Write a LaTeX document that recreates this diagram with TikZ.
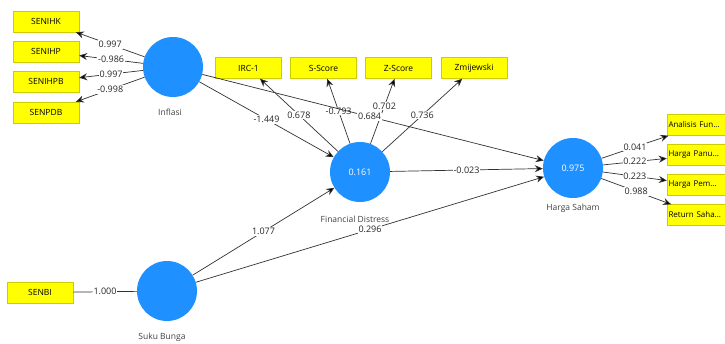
\documentclass[tikz,border=0pt]{standalone}
\usepackage{fontspec}
\setmainfont{Open Sans}
\usetikzlibrary{arrows.meta}
\definecolor{lvblue}{RGB}{30,144,255}
\definecolor{indyellow}{RGB}{255,255,0}
\definecolor{edgegray}{RGB}{50,50,50}
\begin{document}
\begin{tikzpicture}[x=1pt,y=-1pt,
  lv/.style={circle,fill=lvblue,minimum size=60pt,inner sep=0pt,text=white,font=\fontsize{9}{10}\selectfont},
  ind/.style={rectangle,fill=indyellow,draw=indyellow!80!black,line width=0.4pt,minimum width=66pt,minimum height=21pt,inner sep=0pt,font=\fontsize{8.5}{10}\selectfont},
  indr/.style={ind,text width=63pt,align=left,inner xsep=1.5pt,font=\fontsize{8}{10}\selectfont},
  lvname/.style={font=\fontsize{8.5}{10}\selectfont,text=black!75},
  conn/.style={draw=edgegray,line width=0.7pt,-{Stealth[length=8pt,width=7pt,fill=black]}},
  plain/.style={draw=edgegray,line width=0.7pt},
  coef/.style={fill=white,inner sep=0.8pt,pos=0.5,font=\fontsize{9}{10}\selectfont,text=black!85}
]
\clip (0,0) rectangle (725,343);
\fill[white] (0,0) rectangle (725,343);

% latent variables
\node[lv] (inf) at (173,67) {};
\node[lv] (fd) at (360,172) {0.161};
\node[lv] (hs) at (573,168) {0.975};
\node[lv] (sb) at (167,291) {};

\node[lvname] (infn) at (170,112) {Inflasi};
\node[lvname] (fdn) at (355,219) {Financial Distress};
\node[lvname] (hsn) at (573,208) {Harga Saham};
\node[lvname] (sbn) at (162,337) {Suku Bunga};

% indicators
\node[ind] (senihk) at (46,21.5) {SENIHK};
\node[ind] (senihp) at (46,51.5) {SENIHP};
\node[ind] (senihpb) at (46,81.5) {SENIHPB};
\node[ind] (senpdb) at (46,112.5) {SENPDB};
\node[ind] (irc) at (248.5,68) {IRC-1};
\node[ind] (ss) at (323.5,68) {S-Score};
\node[ind] (zs) at (398.5,68) {Z-Score};
\node[ind] (zm) at (474,68) {Zmijewski};
\node[indr] (af) at (700,125) {Analisis Fun...};
\node[indr] (hp) at (700,155) {Harga Panu...};
\node[indr] (hpm) at (700,185) {Harga Pem...};
\node[indr] (rs) at (700,215) {Return Saha...};
\node[ind] (senbi) at (40,292.5) {SENBI};

% outer loadings
\draw[conn] (inf) -- node[coef]{0.997} (senihk);
\draw[conn] (inf) -- node[coef]{-0.986} (senihp);
\draw[conn] (inf) -- node[coef]{0.997} (senihpb);
\draw[conn] (inf) -- node[coef]{-0.998} (senpdb);
\draw[conn] (fd) -- node[coef]{0.678} (irc);
\draw[conn] (fd) -- node[coef]{-0.793} (ss);
\draw[conn] (fd) -- node[coef,pos=0.58]{0.702} (zs);
\draw[conn] (fd) -- node[coef]{0.736} (zm);
\draw[conn] (hs) -- node[coef]{0.041} (af);
\draw[conn] (hs) -- node[coef]{0.222} (hp);
\draw[conn] (hs) -- node[coef]{0.223} (hpm);
\draw[conn] (hs) -- node[coef]{0.988} (rs);
\draw[plain] (senbi) -- node[coef]{1.000} (sb);

% path coefficients
\draw[conn] (inf) -- node[coef]{-1.449} (fd);
\draw[conn] (inf) -- node[coef,pos=0.49]{0.684} (hs);
\draw[conn] (fd) -- node[coef]{-0.023} (hs);
\draw[conn] (sb) -- node[coef]{1.077} (fd);
\draw[conn] (sb) -- node[coef]{0.296} (hs);
\end{tikzpicture}
\end{document}
